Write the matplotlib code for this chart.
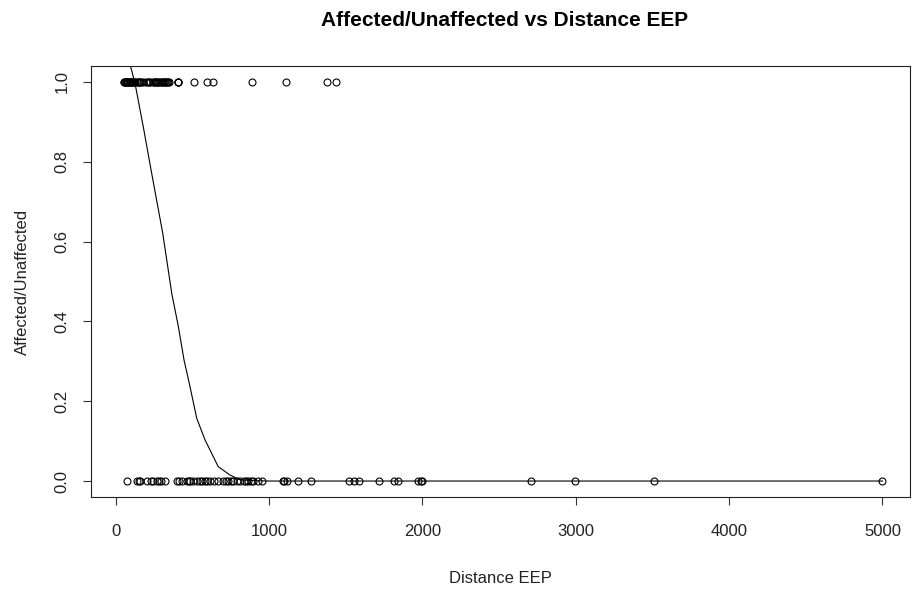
import matplotlib
matplotlib.use("Agg")
import matplotlib.pyplot as plt
import numpy as np

plt.rcParams['font.family'] = ['Liberation Sans', 'DejaVu Sans']

# Observed points: distance for affected (1) and unaffected (0)
affected_x = [52, 56, 60, 64, 68, 72, 76, 80, 85, 90, 95, 100, 105, 110, 115, 120,
              128, 135, 142, 150, 158, 165, 180, 195, 210, 218, 225, 240, 252, 258,
              262, 268, 272, 282, 292, 302, 310, 315, 320, 325, 335, 340, 348,
              404, 406, 408, 512, 593, 636, 890, 1108, 1379, 1436]
unaffected_x = [75, 136, 150, 158, 205, 230, 245, 267, 280, 293, 321, 401, 412, 430,
                462, 475, 484, 505, 527, 549, 565, 582, 598, 614, 640, 669, 701, 717,
                734, 750, 766, 788, 810, 836, 850, 864, 880, 897, 929, 951, 1088,
                1100, 1114, 1190, 1271, 1523, 1555, 1588, 1718, 1814, 1842, 1973,
                1990, 2000, 2706, 2995, 3510, 5000]

# Fitted curve
curve_x = [55, 97, 125, 179, 234, 306, 365, 408, 445, 479, 528, 582, 668, 745,
           810, 900, 1000, 2000, 3000, 4000, 5000]
curve_y = [1.10, 1.038, 0.997, 0.888, 0.771, 0.621, 0.470, 0.387, 0.303, 0.245,
           0.157, 0.103, 0.036, 0.015, 0.003, 0.001, 0.0, 0.0, 0.0, 0.0, 0.0]

x_ticks = [0, 1000, 2000, 3000, 4000, 5000]
y_ticks = [0.0, 0.2, 0.4, 0.6, 0.8, 1.0]

fig = plt.figure(figsize=(9.18, 5.99), dpi=100)
ax = fig.add_axes([0.0991, 0.1703, 0.8922, 0.7195])

ax.plot(affected_x, np.ones(len(affected_x)), linestyle='none', marker='o',
        markersize=5, markerfacecolor='none', markeredgecolor='black',
        markeredgewidth=0.8)
ax.plot(unaffected_x, np.zeros(len(unaffected_x)), linestyle='none', marker='o',
        markersize=5, markerfacecolor='none', markeredgecolor='black',
        markeredgewidth=0.8)
ax.plot(curve_x, curve_y, color='black', linewidth=0.8)

ax.set_xlim(-162, 5180)
ax.set_ylim(-0.04, 1.04)
ax.set_xticks(x_ticks)
ax.set_xticklabels([str(t) for t in x_ticks])
ax.set_yticks(y_ticks)
ax.set_yticklabels([f"{t:.1f}" for t in y_ticks], rotation=90, va='center')

ax.tick_params(axis='both', direction='out', length=5.5, width=0.8,
               labelsize=12, color='#333333', labelcolor='#222222')
ax.tick_params(axis='x', pad=14)
ax.tick_params(axis='y', pad=10)
for s in ax.spines.values():
    s.set_linewidth(0.8)
    s.set_color('#222222')

fig.text(0.550, 0.965, "Affected/Unaffected vs Distance EEP", ha='center',
         va='center', fontsize=15, fontweight='bold')
fig.text(0.545, 0.035, "Distance EEP", ha='center', va='center', fontsize=12,
         color='#222222')
fig.text(0.024, 0.53, "Affected/Unaffected", ha='center', va='center',
         rotation=90, fontsize=12, color='#222222')

fig.savefig("out.png", dpi=100)
